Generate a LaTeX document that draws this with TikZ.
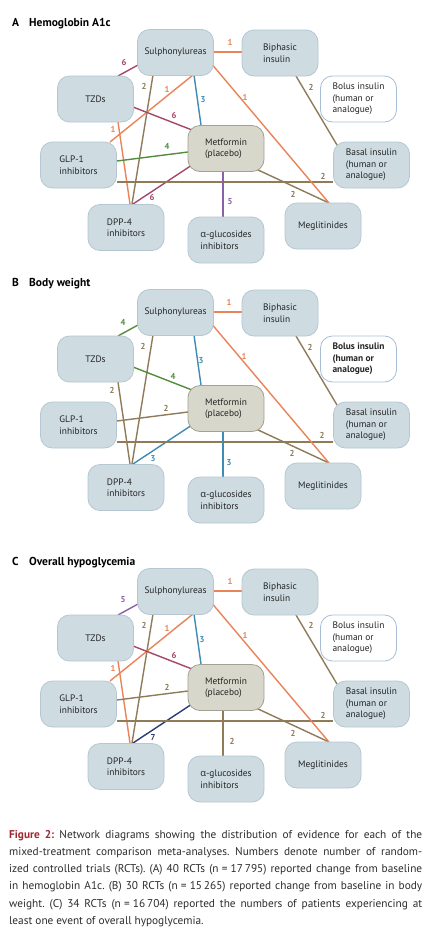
\documentclass[tikz,border=0pt]{standalone}
\usepackage{fontspec}
\setmainfont{PT Sans}
\newfontfamily\grk{Open Sans}
\definecolor{boxfill}{RGB}{206,220,226}
\definecolor{boxborder}{RGB}{180,199,211}
\definecolor{metfill}{RGB}{216,215,203}
\definecolor{metborder}{RGB}{162,161,146}
\definecolor{bolborder}{RGB}{168,190,216}
\definecolor{textc}{RGB}{35,35,35}
\definecolor{capc}{RGB}{45,45,45}
\definecolor{figred}{RGB}{160,40,46}
\definecolor{cOr}{RGB}{234,132,88}
\definecolor{cMa}{RGB}{163,72,104}
\definecolor{cBr}{RGB}{143,123,88}
\definecolor{cBl}{RGB}{62,140,180}
\definecolor{cGr}{RGB}{84,140,62}
\definecolor{cPu}{RGB}{138,96,168}
\definecolor{cNv}{RGB}{44,58,118}
\pgfdeclarelayer{back}
\pgfdeclarelayer{bg}
\pgfsetlayers{back,bg,main}
\tikzset{
  box/.style={draw=boxborder, fill=boxfill, rounded corners=12pt, minimum width=76pt,
    minimum height=46pt, line width=0.8pt, font=\fontsize{9.4}{11.5}\selectfont,
    text=textc, align=left, inner sep=0pt},
  metbox/.style={box, fill=metfill, draw=metborder},
  bolbox/.style={box, fill=white, draw=bolborder},
  edge/.style={line width=1.4pt},
  lbl/.style={font=\fontsize{8.6}{9}\selectfont\bfseries, inner sep=0pt},
  ttl/.style={font=\fontsize{11.5}{12}\selectfont\bfseries, text=black, inner sep=0pt, anchor=base west},
}
\newcommand\panelnodes[2]{%
  \node[box] (sul) at (175.5,52.5+#1) {Sulphonylureas};
  \node[box] (bip) at (280,53+#1) {Biphasic\\insulin};
  \node[bolbox,#2] (bol) at (358.5,99+#1) {Bolus insulin\\(human or\\analogue)};
  \node[box] (tzd) at (95.5,99+#1) {TZDs};
  \node[metbox] (met) at (226,148.5+#1) {Metformin\\(placebo)};
  \node[box] (glp) at (78.5,165+#1) {GLP-1\\inhibitors};
  \node[box] (dpp) at (126,227.5+#1) {DPP-4\\inhibitors};
  \node[box] (alg) at (226,240+#1) {{\grk α}-glucosides\\inhibitors};
  \node[box] (meg) at (323,226+#1) {Meglitinides};
  \node[box] (bas) at (371.5,165+#1) {Basal insulin\\(human or\\analogue)};
}
\newcommand\E[5]{\draw[edge,#1] ([shift={(#3)}]#2.center) -- ([shift={(#5)}]#4.center);}
\newcommand\Lb[4]{\node[lbl,text=#1] (lab-#2-#3) at (#2,#3+\off) {#4};}
\newcommand\eqsp{\hspace{0.28em}=\hspace{0.28em}}
\begin{document}
\begin{tikzpicture}[x=1pt,y=-1pt]
\useasboundingbox (0,0) rectangle (428,946);
\begin{pgfonlayer}{back}
\fill[white] (0,0) rectangle (428,946);
\end{pgfonlayer}

% ---------------- Panel A ----------------
\node[ttl] (tA) at (12,26) {\makebox[17pt][l]{A}Hemoglobin A1c};
\begin{scope}[name prefix=A-]
\def\off{0}
\panelnodes{0}{}
\begin{pgfonlayer}{bg}
\E{cOr}{sul}{37.5,-0.5}{bip}{-38,-1}
\E{cMa}{tzd}{22.5,-23}{sul}{-37.5,12.5}
\E{cBr}{sul}{-22.5,22.5}{dpp}{6,-23.5}
\E{cOr}{sul}{17.5,22.5}{glp}{31.5,-23}
\E{cBl}{sul}{18.5,22.5}{met}{-25,-23.5}
\E{cMa}{tzd}{37.5,8}{met}{-34,-18.5}
\E{cOr}{tzd}{22.5,23}{dpp}{4,-23.5}
\E{cGr}{glp}{38.5,-4}{met}{-38,3.5}
\E{cMa}{dpp}{7,-23.5}{met}{-34,16.5}
\E{cBr}{glp}{38.5,17}{bas}{-38.5,17}
\E{cBr}{met}{30,20.5}{meg}{6,-23}
\E{cOr}{sul}{37.5,13}{meg}{6,-23}
\E{cBr}{bip}{16,23}{bas}{-34.5,-20}
\E{cPu}{met}{-3,23.5}{alg}{-3,-23}
\end{pgfonlayer}
\Lb{cOr}{230}{42}{1}
\Lb{cMa}{124}{62}{6}
\Lb{cBr}{144}{86}{2}
\Lb{cOr}{167}{89}{1}
\Lb{cBl}{203}{100}{3}
\Lb{cMa}{174}{115}{6}
\Lb{cOr}{113}{129}{1}
\Lb{cGr}{167}{146}{4}
\Lb{cMa}{152}{197}{6}
\Lb{cBr}{323}{176}{2}
\Lb{cBr}{293}{194}{2}
\Lb{cOr}{245}{97}{1}
\Lb{cBr}{311}{87}{2}
\Lb{cPu}{230}{202}{5}
\end{scope}

% ---------------- Panel B ----------------
\node[ttl] (tB) at (12,286) {\makebox[17pt][l]{B}Body weight};
\begin{scope}[name prefix=B-]
\def\off{260}
\panelnodes{260}{font=\fontsize{9.4}{11.5}\selectfont\bfseries}
\begin{pgfonlayer}{bg}
\E{cOr}{sul}{37.5,-0.5}{bip}{-38,-1}
\E{cGr}{tzd}{22.5,-23}{sul}{-37.5,12.5}
\E{cBr}{sul}{-22.5,22.5}{dpp}{6,-23.5}
\E{cBl}{sul}{18.5,22.5}{met}{-25,-23.5}
\E{cGr}{tzd}{37.5,8}{met}{-34,-18.5}
\E{cBr}{tzd}{22.5,23}{dpp}{4,-23.5}
\E{cBr}{glp}{38.5,-4}{met}{-38,3.5}
\E{cBl}{dpp}{7,-23.5}{met}{-34,16.5}
\E{cBr}{glp}{38.5,17}{bas}{-38.5,17}
\E{cBr}{met}{30,20.5}{meg}{6,-23}
\E{cOr}{sul}{37.5,13}{meg}{6,-23}
\E{cBr}{bip}{16,23}{bas}{-34.5,-20}
\E{cBl}{met}{-3,23.5}{alg}{-3,-23}
\end{pgfonlayer}
\Lb{cOr}{229}{42}{1}
\Lb{cGr}{123}{62}{4}
\Lb{cBr}{143}{86}{2}
\Lb{cBl}{201}{101}{3}
\Lb{cGr}{173}{116}{4}
\Lb{cBr}{112}{130}{2}
\Lb{cBr}{166}{148}{2}
\Lb{cBl}{153}{199}{3}
\Lb{cBr}{322}{175}{2}
\Lb{cBr}{292}{193}{2}
\Lb{cOr}{244}{96}{1}
\Lb{cBr}{310}{87}{2}
\Lb{cBl}{229}{203}{3}
\end{scope}

% ---------------- Panel C ----------------
\node[ttl] (tC) at (12,565) {\makebox[17pt][l]{C}Overall hypoglycemia};
\begin{scope}[name prefix=C-]
\def\off{539}
\panelnodes{539}{}
\begin{pgfonlayer}{bg}
\E{cOr}{sul}{37.5,-0.5}{bip}{-38,-1}
\E{cPu}{tzd}{22.5,-23}{sul}{-37.5,12.5}
\E{cBr}{sul}{-22.5,22.5}{dpp}{6,-23.5}
\E{cOr}{sul}{17.5,22.5}{glp}{31.5,-23}
\E{cBl}{sul}{18.5,22.5}{met}{-25,-23.5}
\E{cMa}{tzd}{37.5,8}{met}{-34,-18.5}
\E{cOr}{tzd}{22.5,23}{dpp}{4,-23.5}
\E{cBr}{glp}{38.5,-4}{met}{-38,3.5}
\E{cNv}{dpp}{7,-23.5}{met}{-34,16.5}
\E{cBr}{glp}{38.5,17}{bas}{-38.5,17}
\E{cBr}{met}{30,20.5}{meg}{6,-23}
\E{cOr}{sul}{37.5,13}{meg}{6,-23}
\E{cBr}{bip}{16,23}{bas}{-34.5,-20}
\E{cBr}{met}{-3,23.5}{alg}{-3,-23}
\end{pgfonlayer}
\Lb{cOr}{230}{42}{1}
\Lb{cPu}{123}{61}{5}
\Lb{cBr}{144}{86}{2}
\Lb{cOr}{167}{89}{1}
\Lb{cBl}{202}{101}{3}
\Lb{cMa}{174}{116}{6}
\Lb{cOr}{113}{129}{1}
\Lb{cBr}{167}{148}{2}
\Lb{cNv}{153}{198}{7}
\Lb{cBr}{323}{176}{2}
\Lb{cBr}{293}{194}{2}
\Lb{cOr}{245}{96}{1}
\Lb{cBr}{311}{86}{2}
\Lb{cBr}{232}{202}{2}
\end{scope}

% ---------------- Caption ----------------
\node[anchor=north west, text width=413pt, inner sep=0pt, align=justify,
  font=\fontsize{11.3}{17.2}\selectfont\frenchspacing, text=capc] (cap) at (9,830)
{\textcolor{figred}{\bfseries Figure 2:} Network diagrams showing the distribution of evidence for each of the\linebreak
mixed-treatment comparison meta-analyses. Numbers denote number of random-\linebreak
ized controlled trials (RCTs). (A) 40 RCTs (n\eqsp17\,795) reported change from baseline\linebreak
in hemoglobin A1c. (B) 30 RCTs (n\eqsp15\,265) reported change from baseline in body\linebreak
weight. (C) 34 RCTs (n\eqsp16\,704) reported the numbers of patients experiencing at\linebreak
least one event of overall hypoglycemia.};
\end{tikzpicture}
\end{document}
